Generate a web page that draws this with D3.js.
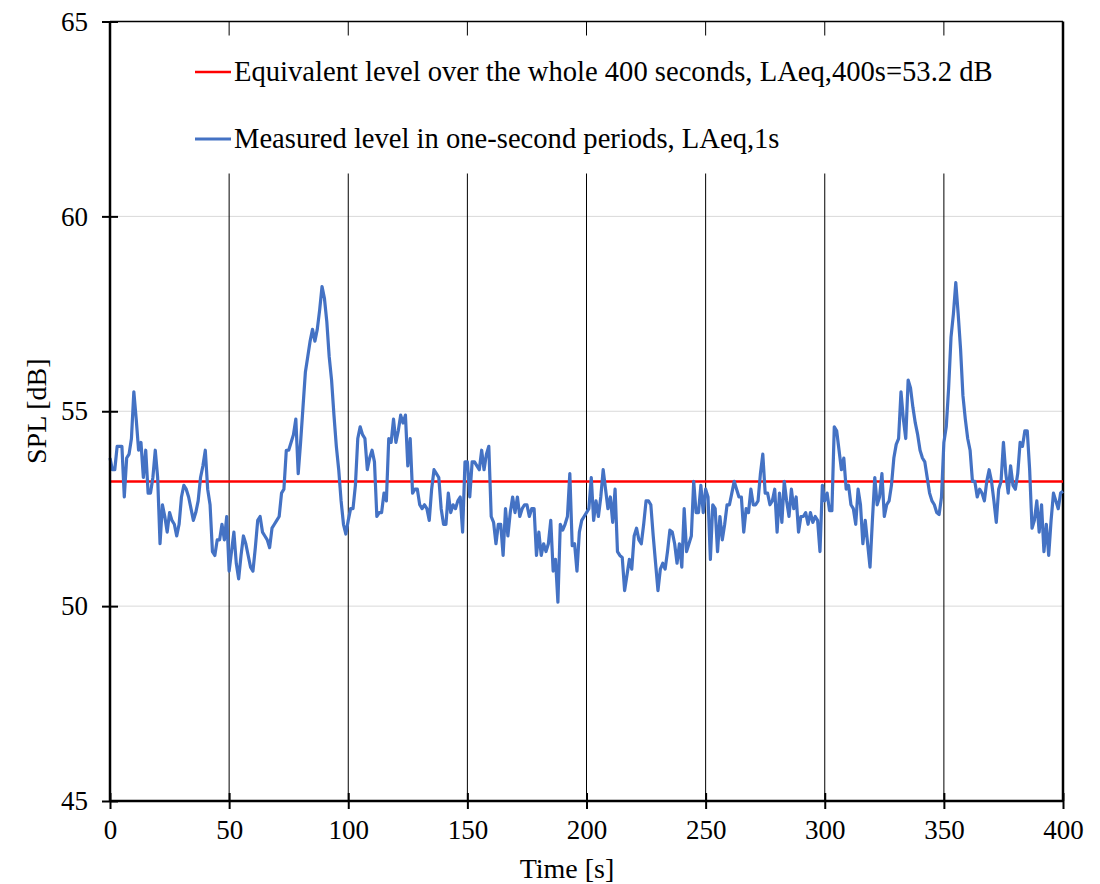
<!DOCTYPE html>
<html>
<head>
<meta charset="utf-8">
<script src="https://cdn.jsdelivr.net/npm/d3@7"></script>
<style>
  body { margin: 0; background: #fff; }
  svg text { font-family: "Liberation Serif", "Times New Roman", serif; fill: #000; }
</style>
</head>
<body>
<div id="chart"></div>
<script>
// measured one-second levels, LAeq,1s [dB], t = 0..400 s
var levels = [
  53.8, 53.5, 53.5, 54.1, 54.1, 54.1, 52.8, 53.8, 53.9, 54.3,
  55.5, 54.8, 54.0, 54.2, 53.3, 54.0, 52.9, 52.9, 53.3, 54.0,
  53.3, 51.6, 52.6, 52.3, 51.9, 52.4, 52.2, 52.1, 51.8, 52.1,
  52.8, 53.1, 53.0, 52.8, 52.5, 52.2, 52.4, 52.7, 53.3, 53.6,
  54.0, 53.0, 52.6, 51.4, 51.3, 51.7, 51.7, 52.1, 51.7, 52.3,
  50.9, 51.4, 51.9, 51.1, 50.7, 51.3, 51.8, 51.6, 51.3, 51.0,
  50.9, 51.5, 52.2, 52.3, 51.9, 51.8, 51.7, 51.5, 52.0, 52.1,
  52.2, 52.3, 52.9, 53.0, 54.0, 54.0, 54.2, 54.4, 54.8, 53.4,
  54.2, 55.1, 56.0, 56.4, 56.8, 57.1, 56.8, 57.1, 57.6, 58.2,
  57.9, 57.3, 56.4, 55.8, 54.9, 54.1, 53.5, 52.7, 52.1, 51.85,
  52.2, 52.5, 52.5, 53.1, 54.3, 54.6, 54.4, 54.3, 53.5, 53.8,
  54.0, 53.7, 52.3, 52.4, 52.4, 52.9, 52.7, 54.3, 54.2, 54.8,
  54.2, 54.5, 54.9, 54.7, 54.9, 53.6, 54.3, 52.9, 53.0, 53.0,
  52.6, 52.5, 52.6, 52.5, 52.2, 53.0, 53.5, 53.4, 53.3, 52.5,
  52.1, 52.1, 52.9, 52.4, 52.6, 52.5, 52.7, 52.8, 51.9, 53.7,
  53.7, 52.8, 53.7, 53.7, 53.6, 53.5, 54.0, 53.5, 53.9, 54.1,
  52.3, 52.15, 51.6, 52.1, 52.1, 51.3, 52.5, 51.8, 52.4, 52.8,
  52.4, 52.8, 52.3, 52.5, 52.6, 52.6, 52.3, 52.5, 52.5, 51.3,
  51.9, 51.3, 51.6, 51.4, 51.6, 52.2, 50.9, 51.2, 50.1, 52.1,
  51.95, 52.1, 52.3, 53.4, 51.55, 51.6, 50.9, 51.9, 52.2, 52.3,
  52.4, 52.5, 53.3, 52.2, 52.7, 52.3, 52.8, 53.5, 53.0, 52.5,
  52.8, 52.15, 53.0, 51.4, 51.3, 51.25, 50.4, 50.8, 51.2, 50.95,
  51.8, 52.0, 51.7, 51.6, 52.1, 52.7, 52.7, 52.6, 51.8, 51.1,
  50.4, 50.95, 51.1, 50.95, 51.4, 51.95, 51.9, 51.6, 51.1, 51.6,
  51.0, 52.5, 51.4, 51.6, 51.8, 53.2, 52.4, 52.4, 53.1, 52.4,
  53.0, 52.8, 51.2, 52.6, 52.5, 51.4, 52.3, 51.7, 52.1, 52.6,
  52.6, 52.9, 53.2, 53.0, 52.8, 52.8, 51.9, 52.5, 52.4, 53.0,
  52.6, 52.6, 52.7, 53.4, 53.9, 52.9, 52.9, 52.6, 52.7, 53.0,
  51.9, 52.9, 52.15, 53.2, 52.7, 52.3, 53.0, 52.5, 52.8, 51.9,
  52.3, 52.3, 52.4, 52.1, 52.4, 52.15, 52.3, 52.2, 51.4, 53.1,
  52.7, 52.9, 52.45, 52.45, 54.6, 54.5, 54.0, 53.5, 53.8, 53.0,
  53.1, 52.6, 52.5, 52.1, 53.0, 52.6, 51.6, 52.2, 51.6, 51.0,
  52.2, 53.3, 52.6, 52.8, 53.4, 52.3, 52.6, 52.7, 53.1, 53.8,
  54.15, 54.3, 55.5, 54.8, 54.3, 55.8, 55.6, 55.1, 54.7, 54.4,
  54.0, 53.8, 53.7, 53.3, 52.9, 52.7, 52.6, 52.4, 52.35, 52.8,
  54.2, 54.6, 55.6, 56.9, 57.5, 58.3, 57.5, 56.6, 55.4, 54.8,
  54.3, 54.0, 53.2, 53.2, 52.8, 53.0, 52.9, 52.7, 53.2, 53.5,
  53.2, 52.7, 52.15, 53.0, 53.2, 54.2, 53.4, 52.9, 53.6, 53.1,
  53.0, 53.4, 54.2, 54.1, 54.5, 54.5, 53.5, 52.0, 52.2, 52.7,
  51.9, 52.6, 51.4, 52.1, 51.3, 52.2, 52.9, 52.7, 52.5, 52.9,
  52.95
];
var times = d3.range(0, levels.length);
var laeqTotal = 53.2;

var xTicks = [0, 50, 100, 150, 200, 250, 300, 350, 400];
var yTicks = [45, 50, 55, 60, 65];
var legendLabels = [
  "Equivalent level over the whole 400 seconds, LAeq,400s=53.2 dB",
  "Measured level in one-second periods, LAeq,1s"
];

var width = 1100, height = 884;
var margin = {top: 21.5, right: 37, bottom: 83, left: 110};
var w = width - margin.left - margin.right;
var h = height - margin.top - margin.bottom;
var fontFamily = "'Liberation Serif', 'Times New Roman', serif";

var svg = d3.select("#chart").append("svg")
  .attr("width", width)
  .attr("height", height);

var g = svg.append("g")
  .attr("transform", "translate(" + margin.left + "," + margin.top + ")");

var x = d3.scaleLinear().domain([0, 400]).range([0, w]);
var y = d3.scaleLinear().domain([45, 65]).range([h, 0]);

// horizontal gridlines
g.selectAll(".hgrid").data([50, 55, 60]).enter().append("line")
  .attr("x1", 0).attr("x2", w)
  .attr("y1", d => y(d)).attr("y2", d => y(d))
  .attr("stroke", "#d9d9d9").attr("stroke-width", 1);

// vertical gridlines (black)
g.selectAll(".vgrid").data(xTicks.slice(1, -1)).enter().append("line")
  .attr("x1", d => x(d)).attr("x2", d => x(d))
  .attr("y1", 0).attr("y2", h)
  .attr("stroke", "#000").attr("stroke-width", 1);

// frame top and right
g.append("line").attr("x1", 0).attr("x2", w).attr("y1", 0).attr("y2", 0)
  .attr("stroke", "#000").attr("stroke-width", 1.5);
g.append("line").attr("x1", w).attr("x2", w).attr("y1", 0).attr("y2", h)
  .attr("stroke", "#000").attr("stroke-width", 2.5);

// legend box covers the gridlines
var legend = g.append("g");
legend.append("rect")
  .attr("x", 70).attr("y", 14).attr("width", 850).attr("height", 138)
  .attr("fill", "#fff");

var legendColors = ["#ff0000", "#4472c4"];
var legendY = [50.5, 117.5];
legend.selectAll(".lg").data(legendLabels).enter().append("g")
  .each(function(d, i) {
    var e = d3.select(this);
    e.append("line")
      .attr("x1", 85).attr("x2", 121)
      .attr("y1", legendY[i]).attr("y2", legendY[i])
      .attr("stroke", legendColors[i]).attr("stroke-width", i === 0 ? 2.5 : 3.2);
    e.append("text")
      .attr("x", 124).attr("y", legendY[i])
      .attr("dy", "0.33em")
      .attr("font-size", 28.6)
      .text(d);
  });

// equivalent level line
g.append("line")
  .attr("x1", x(0)).attr("x2", x(400))
  .attr("y1", y(laeqTotal)).attr("y2", y(laeqTotal))
  .attr("stroke", "#ff0000").attr("stroke-width", 2.5);

// measured level
var line = d3.line()
  .x((d, i) => x(times[i]))
  .y(d => y(d));

g.append("path")
  .datum(levels)
  .attr("d", line)
  .attr("fill", "none")
  .attr("stroke", "#4472c4")
  .attr("stroke-width", 3.2)
  .attr("stroke-linejoin", "round");

// axes
var yAxis = g.append("g")
  .call(d3.axisLeft(y).tickValues(yTicks).tickSize(8).tickPadding(14));
yAxis.select(".domain").attr("stroke-width", 2.5).attr("d", "M0," + h + "V0");
yAxis.selectAll(".tick line").attr("x1", 8).attr("x2", -8).attr("stroke-width", 2);
yAxis.selectAll(".tick text").attr("font-size", 27).attr("font-family", fontFamily);

var xAxis = g.append("g")
  .attr("transform", "translate(0," + h + ")")
  .call(d3.axisBottom(x).tickValues(xTicks).tickSize(8).tickPadding(11));
xAxis.select(".domain").attr("stroke-width", 2.5).attr("d", "M0,0H" + w);
xAxis.selectAll(".tick line").attr("y1", -8).attr("y2", 8).attr("stroke-width", 2);
xAxis.selectAll(".tick text").attr("font-size", 27).attr("font-family", fontFamily);

// axis titles
svg.append("text")
  .attr("x", 567).attr("y", 878)
  .attr("text-anchor", "middle")
  .attr("font-size", 28)
  .text("Time [s]");

svg.append("text")
  .attr("transform", "translate(46," + (margin.top + h / 2) + ") rotate(-90)")
  .attr("text-anchor", "middle")
  .attr("font-size", 28)
  .text("SPL [dB]");
</script>
</body>
</html>
